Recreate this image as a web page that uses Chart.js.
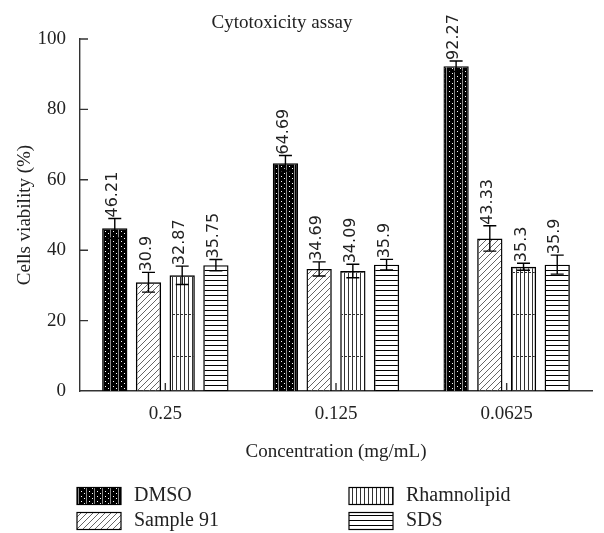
<!DOCTYPE html>
<html>
<head>
<meta charset="utf-8">
<script src="https://cdn.jsdelivr.net/npm/chart.js@4"></script>
<style>
  body { margin: 0; background: #fff; }
</style>
</head>
<body>
<canvas id="cytoChart" width="604" height="533"></canvas>
<script>
/*
 * data
 */
const categories = ['0.25', '0.125', '0.0625'];
const seriesNames = ['DMSO', 'Sample 91', 'Rhamnolipid', 'SDS'];
const dmsoValues = [46.21, 64.69, 92.27];
const dmsoErrors = [2.8, 2.2, 1.5];
const sample91Values = [30.9, 34.69, 43.33];
const sample91Errors = [2.8, 2.0, 3.6];
const rhamnoValues = [32.87, 34.09, 35.3];
const rhamnoErrors = [2.6, 1.9, 1.0];
const sdsValues = [35.75, 35.9, 35.9];
const sdsErrors = [1.6, 1.5, 2.7];
const yTicks = [0, 20, 40, 60, 80, 100];

const serif = '"Liberation Serif", "DejaVu Serif", serif';
const ink = '#222';

/*
 * fill patterns
 */
const makePattern = (kind) => {
	const c = document.createElement('canvas');
	const g = c.getContext('2d');
	if (kind === 'dots') {
		c.width = 8; c.height = 5;
		g.fillStyle = '#000';
		g.fillRect(0, 0, 8, 5);
		g.fillStyle = '#fff';
		g.fillRect(1, 1, 1, 1);
		g.fillRect(4, 3, 1, 1);
		g.fillStyle = '#8a8a8a';
		g.fillRect(6, 0, 1, 5);
	} else if (kind === 'diag') {
		c.width = 6; c.height = 6;
		g.strokeStyle = '#555';
		g.lineWidth = 0.9;
		g.beginPath();
		g.moveTo(0, 6); g.lineTo(6, 0);
		g.moveTo(-1, 1); g.lineTo(1, -1);
		g.moveTo(5, 7); g.lineTo(7, 5);
		g.stroke();
	} else if (kind === 'vert') {
		c.width = 4; c.height = 42;
		g.fillStyle = '#333';
		g.fillRect(0, 0, 1, 42);
		g.fillRect(0, 20, 3, 1);
	} else {
		c.width = 2; c.height = 5;
		g.fillStyle = '#000';
		g.fillRect(0, 0, 2, 1);
	}
	return g.createPattern(c, 'repeat');
};

const patterns = [makePattern('dots'), makePattern('diag'), makePattern('vert'), makePattern('horiz')];
const valueLists = [dmsoValues, sample91Values, rhamnoValues, sdsValues];
const errorLists = [dmsoErrors, sample91Errors, rhamnoErrors, sdsErrors];

// 에러바 + 세로 값 라벨
const errorBarPlugin = {
	id: 'errorBars',
	afterDatasetsDraw(chart) {
		const ctx = chart.ctx;
		const y = chart.scales.y;
		ctx.save();
		ctx.strokeStyle = '#000';
		ctx.lineWidth = 1.4;
		chart.data.datasets.forEach((ds, i) => {
			const meta = chart.getDatasetMeta(i);
			meta.data.forEach((bar, j) => {
				const v = ds.data[j];
				const e = errorLists[i][j];
				const top = y.getPixelForValue(v + e);
				const bot = y.getPixelForValue(v - e);
				ctx.beginPath();
				ctx.moveTo(bar.x, top); ctx.lineTo(bar.x, bot);
				ctx.moveTo(bar.x - 6.5, top); ctx.lineTo(bar.x + 6.5, top);
				ctx.moveTo(bar.x - 6.5, bot); ctx.lineTo(bar.x + 6.5, bot);
				ctx.stroke();

				ctx.save();
				ctx.translate(bar.x - 2, top - 1);
				ctx.rotate(-Math.PI / 2);
				ctx.fillStyle = ink;
				ctx.font = '16px "DejaVu Sans", sans-serif';
				ctx.textAlign = 'left';
				ctx.textBaseline = 'middle';
				ctx.fillText(String(v), 0, 0);
				ctx.restore();
			});
		});
		ctx.restore();
	}
};

// 안쪽 눈금, 제목, 범례
const decorPlugin = {
	id: 'decor',
	afterDraw(chart) {
		const ctx = chart.ctx;
		const area = chart.chartArea;
		const x = chart.scales.x;
		const y = chart.scales.y;
		ctx.save();
		ctx.strokeStyle = '#333';
		ctx.lineWidth = 1.4;
		ctx.beginPath();
		yTicks.forEach((t) => {
			if (t === 0) return;
			const py = y.getPixelForValue(t);
			ctx.moveTo(area.left, py);
			ctx.lineTo(area.left + 8, py);
		});
		categories.forEach((c, i) => {
			const px = x.getPixelForValue(i);
			ctx.moveTo(px, area.bottom);
			ctx.lineTo(px, area.bottom - 8);
		});
		ctx.stroke();

		ctx.fillStyle = ink;
		ctx.font = '19px ' + serif;
		ctx.textAlign = 'center';
		ctx.textBaseline = 'middle';
		ctx.fillText('Cytotoxicity assay', 282, 23);

		// 범례 (2열)
		const cols = [77, 349];
		const rows = [496, 521];
		chart.data.datasets.forEach((ds, i) => {
			const lx = cols[Math.floor(i / 2)];
			const ly = rows[i % 2];
			ctx.fillStyle = '#fff';
			ctx.fillRect(lx, ly - 8.5, 44, 17);
			ctx.fillStyle = ds.backgroundColor;
			ctx.fillRect(lx, ly - 8.5, 44, 17);
			ctx.strokeStyle = '#000';
			ctx.lineWidth = 1.2;
			ctx.strokeRect(lx, ly - 8.5, 44, 17);
			ctx.fillStyle = ink;
			ctx.font = '20px ' + serif;
			ctx.textAlign = 'left';
			ctx.fillText(ds.label, lx + 57, ly);
		});
		ctx.restore();
	}
};

new Chart(document.getElementById('cytoChart'), {
	type: 'bar',
	data: {
		labels: categories,
		datasets: valueLists.map((vals, i) => ({
			label: seriesNames[i],
			data: vals,
			backgroundColor: patterns[i],
			borderColor: '#000',
			borderWidth: 1.4,
			categoryPercentage: 0.79,
			barPercentage: 0.75
		}))
	},
	options: {
		responsive: false,
		animation: false,
		layout: { padding: { left: 0, right: 12, top: 39, bottom: 67 } },
		plugins: {
			legend: { display: false },
			tooltip: { enabled: false }
		},
		scales: {
			x: {
				grid: { display: false, drawTicks: false },
				border: { display: true, color: '#333', width: 1.4 },
				ticks: { color: ink, font: { family: serif, size: 19 }, padding: 12 },
				title: {
					display: true,
					text: 'Concentration (mg/mL)',
					color: ink,
					font: { family: serif, size: 19 },
					padding: { top: 0, bottom: 3 }
				},
				afterFit(scale) { scale.height = 75; }
			},
			y: {
				min: 0,
				max: 100,
				afterBuildTicks(scale) { scale.ticks = yTicks.map((v) => ({ value: v })); },
				grid: { display: false, drawTicks: false },
				border: { display: true, color: '#333', width: 1.4 },
				ticks: { color: ink, font: { family: serif, size: 19 }, padding: 14 },
				title: {
					display: true,
					text: 'Cells viability (%)',
					color: ink,
					font: { family: serif, size: 19 },
					padding: { top: 14, bottom: 0 }
				},
				afterFit(scale) { scale.width = 80; }
			}
		}
	},
	plugins: [errorBarPlugin, decorPlugin]
});
</script>
</body>
</html>
